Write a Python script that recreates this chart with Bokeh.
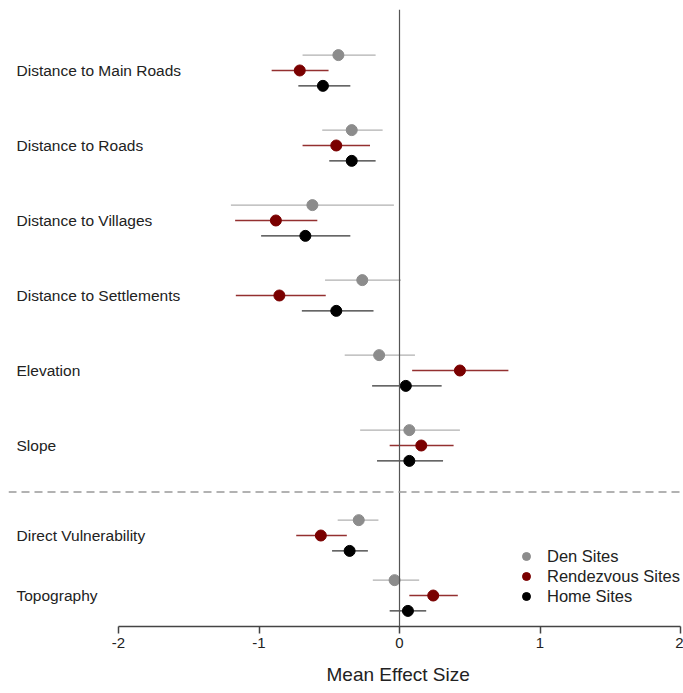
from bokeh.plotting import figure
from bokeh.models import Range1d, Span, Legend, LegendItem, ColumnDataSource, FixedTicker, Title
from bokeh.core.properties import value
from bokeh.embed import file_html
from bokeh.resources import INLINE

categories = ["Distance to Main Roads", "Distance to Roads", "Distance to Villages",
              "Distance to Settlements", "Elevation", "Slope",
              "Direct Vulnerability", "Topography"]
group_pos = [1, 2, 3, 4, 5, 6, 7.2, 8.0]

den_mean = [-0.435, -0.34, -0.62, -0.265, -0.145, 0.07, -0.29, -0.035]
den_low = [-0.69, -0.55, -1.2, -0.53, -0.39, -0.28, -0.44, -0.19]
den_high = [-0.17, -0.12, -0.04, 0.01, 0.11, 0.43, -0.15, 0.14]

rend_mean = [-0.71, -0.45, -0.88, -0.855, 0.43, 0.155, -0.56, 0.24]
rend_low = [-0.91, -0.69, -1.17, -1.165, 0.09, -0.07, -0.735, 0.07]
rend_high = [-0.505, -0.21, -0.585, -0.525, 0.775, 0.385, -0.375, 0.415]

home_mean = [-0.545, -0.34, -0.67, -0.45, 0.045, 0.07, -0.355, 0.06]
home_low = [-0.72, -0.5, -0.985, -0.695, -0.195, -0.16, -0.48, -0.07]
home_high = [-0.35, -0.17, -0.35, -0.185, 0.3, 0.31, -0.225, 0.19]

x_ticks = [-2, -1, 0, 1, 2]
x_tick_labels = {-2: "-2", -1: "-1", 0: "0", 1: "1", 2: "2"}
x_title = "Mean Effect Size"
separator_y = 6.62

FONT = "Liberation Sans"
x_start, x_end = -2.783, 2.0
y_top, y_bottom = 0.187, 8.413

p = figure(frame_width=672, frame_height=617, output_backend="svg", toolbar_location=None,
           x_range=Range1d(x_start, x_end), y_range=Range1d(y_bottom, y_top),
           y_axis_location=None, min_border_left=8, min_border_right=3, min_border_top=9,
           min_border_bottom=0)
p.outline_line_color = None
p.xgrid.visible = False
p.ygrid.visible = False
p.background_fill_color = "white"
p.border_fill_color = "white"

ax = p.xaxis[0]
ax.ticker = FixedTicker(ticks=x_ticks)
ax.major_label_overrides = x_tick_labels
ax.bounds = (-2, 2)
ax.minor_tick_line_color = None
ax.major_tick_out = 7
ax.major_tick_in = 0
ax.axis_line_color = "#444444"
ax.axis_line_width = 1.5
ax.major_tick_line_color = "#444444"
ax.major_tick_line_width = 1.5
ax.major_label_text_font = FONT
ax.major_label_text_font_size = "15px"
ax.major_label_text_color = "#222222"
ax.major_label_standoff = 4

title = Title(text=x_title, align="left", offset=318, text_font=FONT,
              text_font_size="19px", text_font_style="normal", text_color="#222222",
              standoff=23)
p.add_layout(title, "below")

p.add_layout(Span(location=0, dimension="height", line_color="#555555", line_width=1.2))
p.add_layout(Span(location=separator_y, dimension="width", line_color="#999999",
                  line_width=1.3, line_dash="8 5"))

offset = 0.205
series = [
    ("Den Sites", den_mean, den_low, den_high, -offset, "#8c8c8c", "#b0b0b0"),
    ("Rendezvous Sites", rend_mean, rend_low, rend_high, 0.0, "#7a0000", "#943030"),
    ("Home Sites", home_mean, home_low, home_high, offset, "#000000", "#333333"),
]

legend_items = []
for name, m, lo, hi, off, pc, lc in series:
    ys = [g + off for g in group_pos]
    src = ColumnDataSource(dict(m=m, lo=lo, hi=hi, y=ys))
    p.segment(x0="lo", x1="hi", y0="y", y1="y", source=src, line_color=lc, line_width=1.4)
    r = p.scatter(x="m", y="y", source=src, size=11, fill_color=pc, line_color=pc)
    legend_items.append(LegendItem(label=name, renderers=[r]))

lab = ColumnDataSource(dict(x=[x_start] * len(categories), y=group_pos, t=categories))
p.text(x="x", y="y", text="t", source=lab, x_offset=8, text_align="left",
       text_baseline="middle", text_font=value(FONT), text_font_size="15.5px",
       text_color="#222222")

legend = Legend(items=legend_items, location=(508, 20), orientation="vertical",
                background_fill_alpha=0, border_line_color=None,
                label_text_font=FONT, label_text_font_size="16.5px",
                label_text_color="#222222", spacing=0, padding=0, margin=0,
                glyph_width=20, glyph_height=20, label_height=20, label_standoff=11)
p.add_layout(legend)

open("out.html", "w").write(file_html(p, INLINE))
